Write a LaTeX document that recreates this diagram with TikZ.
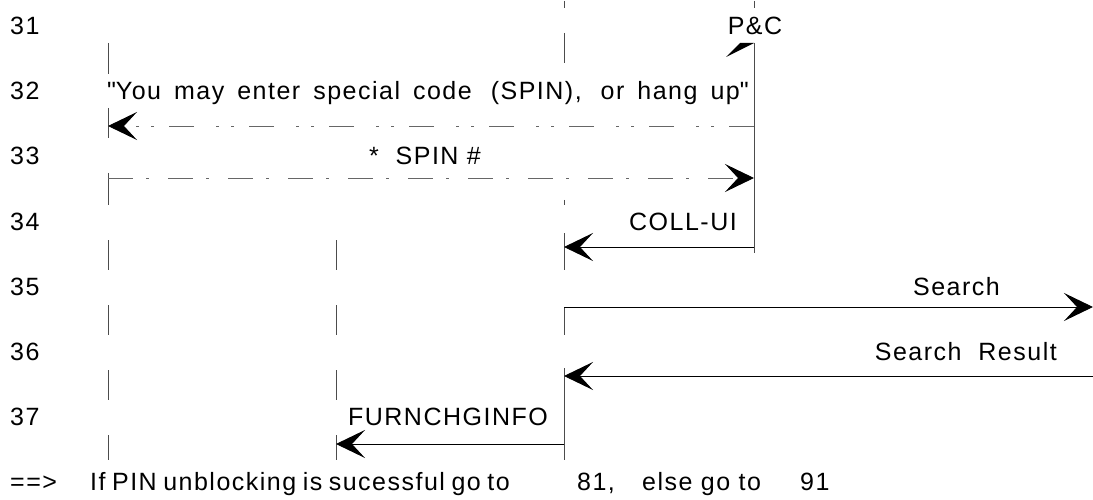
\documentclass[tikz,border=0pt]{standalone}
\usepackage{fontspec}
\setmainfont{Liberation Sans}[LetterSpace=6]
\usetikzlibrary{arrows.meta}
\begin{document}
\begin{tikzpicture}[x=1pt,y=-1pt,
  txt/.style={inner sep=0pt,font=\fontsize{25}{30}\selectfont},
  life/.style={draw=black!70,line width=0.9pt},
  msg/.style={draw=black,line width=0.9pt,-{Stealth[length=29pt,width=28pt,inset=13pt,color=black]}},
  dashdot/.style={draw=black!60,dash pattern=on 25pt off 13pt on 3pt off 19pt},
  dashdotdot/.style={draw=black!60,dash pattern=on 25pt off 15pt on 3pt off 12pt on 3pt off 22pt}]
\useasboundingbox (0,0) rectangle (1093,500);
% row numbers
\foreach \n/\y in {31/35,32/100,33/165,34/230,35/295,36/360,37/425}
  \node[txt,anchor=base west] (row\n) at (10,\y) {\n};
% lifelines
\foreach \a/\b in {43/74,108/138,173/205,240/270,305/335,370/400,435/460}
  \draw[life] (108,\a) coordinate (A\a) -- (108,\b) coordinate (Ab\a);
\foreach \a/\b in {240/270,305/335,370/400,435/460}
  \draw[life] (336,\a) coordinate (B\a) -- (336,\b) coordinate (Bb\a);
\foreach \a/\b in {1/8,33/63,200/205,233/270,307/335,368/460}
  \draw[life] (564,\a) coordinate (C\a) -- (564,\b) coordinate (Cb\a);
\foreach \a/\b in {1/8,43/253}
  \draw[life] (754,\a) coordinate (D\a) -- (754,\b) coordinate (Db\a);
% P&C
\node[txt,anchor=base] (pc) at (755,35) {P\&C};
\fill (754,43) -- (726,57) -- (740,43) -- cycle;
% coordinates on lifelines
\coordinate (a32) at (108,126); \coordinate (d32) at (754,126);
\coordinate (a33) at (108,178); \coordinate (d33) at (754,178);
\coordinate (c34) at (564,247); \coordinate (d34) at (754,247);
\coordinate (c35) at (564,307); \coordinate (e35) at (1093,307);
\coordinate (c36) at (564,376); \coordinate (e36) at (1093,376);
\coordinate (b37) at (336,444); \coordinate (c37) at (564,444);
% messages
\draw[msg,dashdotdot] (d32) -- (a32);
\node[txt,anchor=base east] (m32) at (749,100) {\spaceskip=13pt\relax\textquotedbl You may enter special code\hspace{19pt}(SPIN),\hspace{19pt}or hang up\textquotedbl};
\draw[msg,dashdot] (a33) -- (d33);
\node[txt,anchor=base] (m33) at (425,165) {*\ \ SPIN \#};
\draw[msg] (d34) -- (c34);
\node[txt,anchor=base east] (m34) at (737,230) {COLL-UI};
\draw[msg] (c35) -- (e35);
\node[txt,anchor=base east] (m35) at (1000,295) {Search};
\draw[msg] (e36) -- (c36);
\node[txt,anchor=base east] (m36) at (1057,360) {Search\ \ Result};
\draw[msg] (c37) -- (b37);
\node[txt,anchor=base east] (m37) at (548,425) {FURNCHGINFO};
% bottom line
\node[txt,anchor=base west] (foot) at (10,490) {\makebox[80pt][l]{==>}\makebox[487pt][l]{\spaceskip=6.5pt\relax If PIN unblocking is sucessful go to}\makebox[65pt][l]{81,}\makebox[158pt][l]{else go to}91};
\end{tikzpicture}
\end{document}
